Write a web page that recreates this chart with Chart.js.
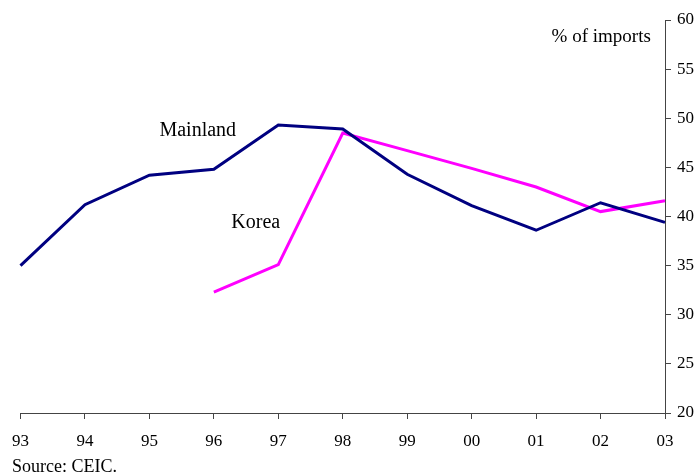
<!DOCTYPE html>
<html>
<head>
<meta charset="utf-8">
<script src="https://cdn.jsdelivr.net/npm/chart.js@4/dist/chart.umd.min.js"></script>
<style>
  html, body { margin: 0; padding: 0; background: #fff; }
  canvas { display: block; }
</style>
</head>
<body>
<canvas id="c" width="698" height="476"></canvas>
<script>
// Share of imports, by year
const years = ['93', '94', '95', '96', '97', '98', '99', '00', '01', '02', '03'];
const mainland = [35.0, 41.2, 44.2, 44.8, 49.3, 48.9, 44.3, 41.1, 38.6, 41.4, 39.4];
const korea = [null, null, null, 32.3, 35.1, 48.5, 46.7, 44.9, 43.0, 40.5, 41.6];
const yTicks = [20, 25, 30, 35, 40, 45, 50, 55, 60];

const FONT = 'Liberation Serif, "Times New Roman", serif';

// Series names, unit note and source line
const textPlugin = {
  id: 'labels',
  afterDraw(chart) {
    const { ctx, scales: { x, y } } = chart;
    ctx.save();
    ctx.fillStyle = '#000';
    ctx.textBaseline = 'middle';
    ctx.textAlign = 'center';
    ctx.font = '20px ' + FONT;
    ctx.fillText('Mainland', x.getPixelForValue(2.75), y.getPixelForValue(48.7));
    ctx.fillText('Korea', x.getPixelForValue(3.65), y.getPixelForValue(39.4));
    ctx.textAlign = 'right';
    ctx.font = '19px ' + FONT;
    ctx.fillText('% of imports', x.getPixelForValue(9.78), y.getPixelForValue(58.3));
    ctx.textAlign = 'left';
    ctx.font = '18px ' + FONT;
    ctx.fillText('Source: CEIC.', 12, 467);
    ctx.restore();
  }
};

new Chart(document.getElementById('c'), {
  type: 'line',
  data: {
    labels: years,
    datasets: [
      { label: 'Mainland', data: mainland, borderColor: '#000080', borderWidth: 3, pointRadius: 0, tension: 0, spanGaps: false },
      { label: 'Korea', data: korea, borderColor: '#FF00FF', borderWidth: 3, pointRadius: 0, tension: 0, spanGaps: false }
    ]
  },
  options: {
    responsive: false,
    devicePixelRatio: 1,
    animation: false,
    layout: { padding: { left: 20, top: 20, right: 0, bottom: 0 } },
    plugins: { legend: { display: false }, tooltip: { enabled: false } },
    scales: {
      x: {
        type: 'category',
        offset: false,
        grid: { drawOnChartArea: false, drawTicks: true, tickLength: 6, color: '#444' },
        border: { display: true, color: '#444', width: 1 },
        ticks: { color: '#000', font: { family: FONT, size: 17 }, padding: 12, maxRotation: 0, autoSkip: false },
        afterFit(s) { s.height = 63; }
      },
      y: {
        position: 'right',
        min: 20,
        max: 60,
        afterBuildTicks(s) { s.ticks = yTicks.map(v => ({ value: v })); },
        grid: { drawOnChartArea: false, drawTicks: true, tickLength: 6, color: '#444' },
        border: { display: true, color: '#444', width: 1 },
        ticks: { color: '#000', font: { family: FONT, size: 17 }, padding: 6 },
        afterFit(s) { s.width = 33; }
      }
    }
  },
  plugins: [textPlugin]
});
</script>
</body>
</html>
